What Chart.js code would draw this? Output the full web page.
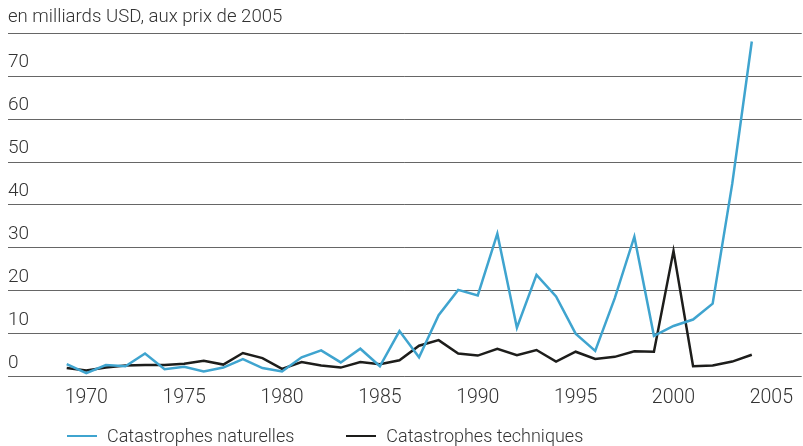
<!DOCTYPE html>
<html lang="fr">
<head>
  <meta charset="UTF-8" />
  <title>Catastrophes naturelles et techniques</title>
  <script src="https://cdn.jsdelivr.net/npm/chart.js"></script>
  <style>
    html, body { margin: 0; padding: 0; background: #fff; }
    #wrap { position: relative; width: 803px; height: 446px; }
    #legend { position: absolute; left: 67px; top: 425px; display: flex; font-family: Roboto, sans-serif; font-weight: 300; font-size: 18px; color: #333; line-height: 22px; }
    .item { display: flex; align-items: center; }
    .item + .item { margin-left: 52px; }
    .swatch { width: 30px; height: 2px; margin-right: 10px; }
  </style>
</head>
<body>
  <div id="wrap">
    <canvas id="chart" width="803" height="446"></canvas>
    <div id="legend"></div>
  </div>

  <script>
    const years = [1969, 1970, 1971, 1972, 1973, 1974, 1975, 1976, 1977, 1978, 1979,
      1980, 1981, 1982, 1983, 1984, 1985, 1986, 1987, 1988, 1989,
      1990, 1991, 1992, 1993, 1994, 1995, 1996, 1997, 1998, 1999,
      2000, 2001, 2002, 2003, 2004];
    // billions USD, 2005 prices
    const naturelles = [2.9, 0.8, 2.7, 2.4, 5.4, 1.7, 2.3, 1.2, 2.1, 4.1, 2.0,
      1.2, 4.5, 6.1, 3.3, 6.5, 2.4, 10.6, 4.5, 14.3, 20.2,
      18.9, 33.3, 11.4, 23.7, 18.7, 10.0, 6.0, 18.3, 32.6, 9.5,
      11.8, 13.3, 17.0, 44.9, 78.1];
    const techniques = [2.0, 1.4, 2.1, 2.6, 2.7, 2.7, 3.0, 3.7, 2.8, 5.5, 4.3,
      1.8, 3.4, 2.6, 2.1, 3.4, 2.9, 3.8, 7.2, 8.5, 5.4,
      4.9, 6.5, 5.0, 6.2, 3.5, 5.8, 4.1, 4.6, 5.9, 5.8,
      29.3, 2.4, 2.6, 3.5, 5.1];
    const xTicks = [1970, 1975, 1980, 1985, 1990, 1995, 2000, 2005];
    const seriesNames = ['Catastrophes naturelles', 'Catastrophes techniques'];
    const seriesColors = ['#3fa4cf', '#1d1d1b'];

    const font = 'Roboto, sans-serif';

    const toPoints = vals => vals.map((v, i) => ({ x: years[i], y: v }));

    new Chart(document.getElementById('chart'), {
      type: 'line',
      data: {
        datasets: [
          { label: seriesNames[0], data: toPoints(naturelles), borderColor: seriesColors[0], borderWidth: 2.5, pointRadius: 0, tension: 0 },
          { label: seriesNames[1], data: toPoints(techniques), borderColor: seriesColors[1], borderWidth: 2.5, pointRadius: 0, tension: 0 }
        ]
      },
      options: {
        responsive: false,
        animation: false,
        layout: { padding: { left: 8, right: 0, top: 0, bottom: 26 } },
        plugins: {
          legend: { display: false },
          tooltip: { enabled: false },
          title: {
            display: true,
            text: 'en milliards USD, aux prix de 2005',
            align: 'start',
            color: '#333',
            font: { family: font, size: 18.6, weight: 300 },
            padding: { top: 6, bottom: 5 }
          }
        },
        scales: {
          x: {
            type: 'linear',
            min: 1966,
            max: 2006.55,
            grid: { display: false, drawTicks: false },
            border: { display: false },
            afterBuildTicks: axis => { axis.ticks = xTicks.map(v => ({ value: v })); },
            ticks: {
              autoSkip: false,
              maxRotation: 0,
              padding: 10,
              color: '#333',
              font: { family: font, size: 19.5, weight: 300 },
              callback: v => String(v)
            }
          },
          y: {
            min: 0,
            max: 80,
            grid: { color: '#666', lineWidth: 1, drawTicks: false },
            border: { display: false },
            ticks: {
              stepSize: 10,
              mirror: true,
              padding: 0,
              labelOffset: -13.5,
              color: '#333',
              font: { family: font, size: 19, weight: 300 },
              callback: v => (v === 80 ? '' : String(v))
            }
          }
        }
      }
    });

    // simple legend under the chart
    const legend = document.getElementById('legend');
    seriesNames.forEach((name, i) => {
      const item = document.createElement('div');
      item.className = 'item';
      item.innerHTML = `<span class="swatch" style="background:${seriesColors[i]}"></span><span>${name}</span>`;
      legend.appendChild(item);
    });
  </script>
</body>
</html>
